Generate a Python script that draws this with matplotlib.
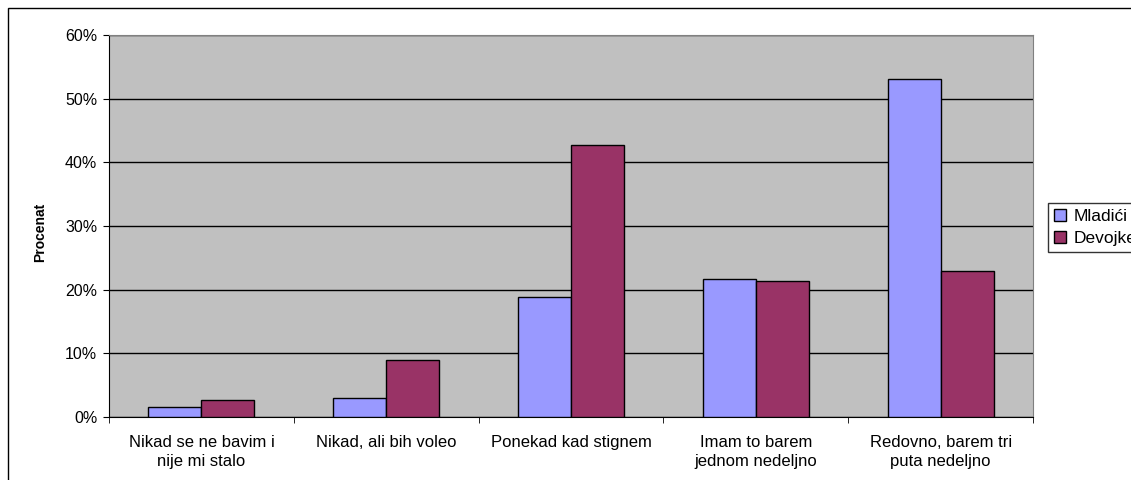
import numpy as np
import matplotlib.pyplot as plt
from matplotlib.patches import Rectangle
from matplotlib.ticker import FuncFormatter

categories = ["Nikad se ne bavim i\nnije mi stalo", "Nikad, ali bih voleo",
              "Ponekad kad stignem", "Imam to barem\njednom nedeljno",
              "Redovno, barem tri\nputa nedeljno"]
mladici = [1.6, 3.0, 18.9, 21.7, 53.1]
devojke = [2.7, 9.0, 42.8, 21.4, 23.0]
series_names = ["Mladići", "Devojke"]
colors = ["#9999ff", "#993366"]

plt.rcParams.update({"font.family": "Liberation Sans", "font.size": 11})
fig = plt.figure(figsize=(11.31, 4.8), dpi=100)
ax = fig.add_axes([109 / 1131, 1 - 417 / 480, 924 / 1131, 382 / 480])
ax.set_facecolor("#c0c0c0")

x = np.arange(len(categories))
w = 0.287
ax.bar(x - w / 2, mladici, w, color=colors[0], edgecolor="black", lw=1, label=series_names[0], zorder=3)
ax.bar(x + w / 2, devojke, w, color=colors[1], edgecolor="black", lw=1, label=series_names[1], zorder=3)

ax.set_xlim(-0.5, len(categories) - 0.5)
ax.set_ylim(0, 60)
ax.set_yticks(np.arange(0, 61, 10))
ax.yaxis.set_major_formatter(FuncFormatter(lambda v, p: f"{v:.0f}%"))
ax.grid(axis="y", color="black", lw=1, zorder=1)
ax.set_axisbelow(True)

ax.set_xticks(x)
ax.set_xticklabels(categories, fontsize=12, linespacing=1.35)
ax.tick_params(axis="x", length=0, pad=13)
ax.set_xticks(np.arange(-0.5, len(categories)), minor=True)
ax.tick_params(axis="x", which="minor", length=4.5, direction="out")
ax.tick_params(axis="y", length=4.5, direction="out", pad=4, labelsize=11.5)

for s in ["top", "right"]:
    ax.spines[s].set_color("#808080")
ax.spines["left"].set_color("black")
ax.spines["bottom"].set_color("black")

ax.set_ylabel("Procenat", fontweight="bold", fontsize=10)
ax.yaxis.set_label_coords(-62 / 924, (417 - 232) / 382)

fig.legend(loc="upper left", bbox_to_anchor=(1048 / 1131, 1 - 203 / 480),
           frameon=True, fancybox=False, edgecolor="black", handlelength=0.7,
           handleheight=0.7, handletextpad=0.4, borderpad=0.35, labelspacing=0.4,
           fontsize=12.5, borderaxespad=0)

fig.patches.append(Rectangle((8 / 1131, -0.1), 1.2, 1 - 8 / 480 + 0.1,
                             transform=fig.transFigure, fill=False,
                             edgecolor="black", lw=1))

fig.savefig("out.png", dpi=100)
